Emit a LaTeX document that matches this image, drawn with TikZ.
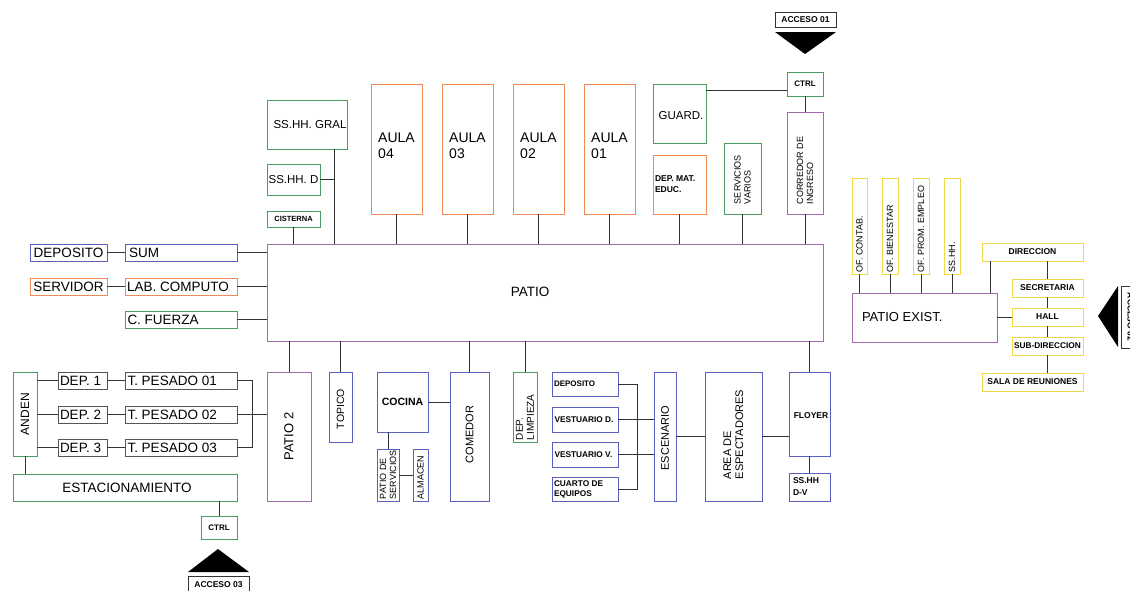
\documentclass[tikz,border=0pt]{standalone}
\usepackage{fontspec}
\setmainfont{Liberation Sans}
\definecolor{cor}{HTML}{EE8A55}
\definecolor{cgr}{HTML}{4E9A64}
\definecolor{cbl}{HTML}{5A5FC0}
\definecolor{cpu}{HTML}{A06AAA}
\definecolor{cye}{HTML}{F2D64B}
\definecolor{cgy}{HTML}{555555}
\definecolor{cdk}{HTML}{333333}
\definecolor{cln}{HTML}{333333}
\newcommand\fs[2]{\fontsize{#1}{#2}\selectfont}
\newcommand\bx[6]{\node[bx=#6, minimum width={(#4)-(#2)}, minimum height={(#5)-(#3)}] (#1) at ({((#2)+(#4))/2},{((#3)+(#5))/2}) {};}
\begin{document}
\begin{tikzpicture}[x=1pt,y=-1pt,
  bx/.style={draw=#1, line width=1pt, inner sep=0pt, outer sep=0pt, fill=white},
  T/.style={inner sep=0pt, outer sep=0pt, text=black},
  vt/.style={T, rotate=90, align=left},
  ln/.style={draw=cln, line width=0.9pt}]
\clip (0,0) rectangle (1130,590);
\fill[white] (0,0) rectangle (1130,590);

% ---------- top left
\bx{gral}{267}{100}{347}{149}{cgr}
\bx{ssd}{267}{164}{320}{195}{cgr}
\bx{cist}{267}{211}{320}{227}{cgr}
\bx{dep}{30}{244}{107}{261}{cbl}
\bx{sum}{125}{244}{237}{261}{cbl}
\bx{serv}{30}{278}{107}{295}{cor}
\bx{lab}{125}{278}{237}{295}{cor}
\bx{cf}{125}{311}{237}{328}{cgr}
\bx{patio}{267}{244}{823}{341}{cpu}
% aulas
\bx{aulaa}{371}{84}{422}{214}{cor}
\bx{aulab}{442}{84}{493}{214}{cor}
\bx{aulac}{513}{84}{564}{214}{cor}
\bx{aulad}{584}{84}{635}{214}{cor}
\bx{guard}{653}{84}{706}{143}{cgr}
\bx{dme}{653}{155}{706}{214}{cor}
\bx{svar}{724}{143}{761}{214}{cgr}
\bx{ctrla}{787}{72}{823}{96}{cgr}
\bx{corr}{787}{112}{823}{214}{cpu}
\bx{acca}{775}{12}{836}{27}{cdk}

% ---------- right cluster
\bx{ofc}{852}{178}{867}{274}{cye}
\bx{ofb}{882}{178}{898}{274}{cye}
\bx{ofp}{913}{178}{929}{274}{cye}
\bx{ofs}{944}{178}{960}{274}{cye}
\bx{pex}{852}{293}{997}{342}{cpu}
\bx{dir}{982}{243}{1083}{261}{cye}
\bx{sec}{1012}{279}{1083}{297}{cye}
\bx{hall}{1012}{308}{1083}{326}{cye}
\bx{sub}{1012}{337}{1083}{355}{cye}
\bx{sala}{982}{373}{1083}{391}{cye}
\bx{accb}{1121}{286}{1140}{348}{cdk}

% ---------- bottom left
\bx{anden}{13}{372}{37}{456}{cgr}
\bx{da}{58}{372}{107}{389}{cgy}
\bx{tpa}{125}{372}{237}{389}{cgy}
\bx{db}{58}{406}{107}{423}{cgy}
\bx{tpb}{125}{406}{237}{423}{cgy}
\bx{dc}{58}{439}{107}{456}{cgy}
\bx{tpc}{125}{439}{237}{456}{cgy}
\bx{est}{13}{474}{237}{501}{cgr}
\bx{ctrlc}{201}{516}{237}{539}{cgr}
\bx{accc}{188}{576}{249}{594}{cdk}

% ---------- bottom middle
\bx{patiob}{267}{372}{311}{501}{cpu}
\bx{top}{329}{372}{352}{442}{cbl}
\bx{coc}{377}{372}{428}{432}{cbl}
\bx{pser}{377}{449}{399}{501}{cbl}
\bx{alm}{413}{449}{428}{501}{cbl}
\bx{com}{450}{372}{489}{501}{cbl}
\bx{dlim}{513}{372}{537}{442}{cgr}
\bx{dps}{552}{372}{618}{396}{cbl}
\bx{vd}{552}{407}{618}{432}{cbl}
\bx{vv}{552}{442}{618}{467}{cbl}
\bx{cq}{552}{477}{618}{501}{cbl}
\bx{esc}{654}{372}{676}{501}{cbl}
\bx{area}{705}{372}{762}{501}{cbl}
\bx{floy}{789}{372}{830}{456}{cbl}
\bx{sshdv}{789}{473}{830}{501}{cbl}

% ---------- triangles
\fill[black] (775,32) -- (836,32) -- (805,54) -- cycle;
\fill[black] (1098,316) -- (1118,286) -- (1118,347) -- cycle;
\fill[black] (218,549) -- (249,572) -- (188,572) -- cycle;

% ---------- texts
\node[T, font=\fs{11.5}{13}] (gralt) at ([xshift=3pt]gral.center) {SS.HH. GRAL};
\node[T, font=\fs{11.5}{13}] (ssdt) at (ssd.center) {SS.HH. D};
\node[T, font=\fs{7.5}{9}\bfseries] (cistt) at (cist.center) {CISTERNA};
\node[T, font=\fs{13.5}{15}] (dept) at (dep.center) {DEPOSITO};
\node[T, font=\fs{13.5}{15}, anchor=west] (sumt) at ([xshift=4pt]sum.west) {SUM};
\node[T, font=\fs{13.5}{15}] (servt) at (serv.center) {SERVIDOR};
\node[T, font=\fs{13.5}{15}, anchor=west] (labt) at ([xshift=2pt]lab.west) {LAB. COMPUTO};
\node[T, font=\fs{13.5}{15}, anchor=west] (cft) at ([xshift=2.5pt]cf.west) {C. FUERZA};
\node[T, font=\fs{13.5}{15}] (patiot) at (530,292) {PATIO};
\node[T, font=\fs{14}{16}, align=left] (aulaat) at ([yshift=3pt]aulaa.center) {AULA\\04};
\node[T, font=\fs{14}{16}, align=left] (aulabt) at ([yshift=3pt]aulab.center) {AULA\\03};
\node[T, font=\fs{14}{16}, align=left] (aulact) at ([yshift=3pt]aulac.center) {AULA\\02};
\node[T, font=\fs{14}{16}, align=left] (auladt) at ([yshift=3pt]aulad.center) {AULA\\01};
\node[T, font=\fs{11.5}{13}] (guardt) at ([xshift=1.5pt,yshift=-2.5pt]guard.center) {GUARD.};
\node[T, font=\fs{8.5}{11}\bfseries, align=left, anchor=west] (dmet) at ([xshift=2pt]dme.west) {DEP. MAT.\\EDUC.};
\node[vt, font=\fs{9}{10}, anchor=west] (svart) at ([yshift=10pt]svar.south) {SERVICIOS\\VARIOS};
\node[T, font=\fs{8}{10}\bfseries] (ctrlat) at (ctrla.center) {CTRL};
\node[vt, font=\fs{9}{10}, anchor=west] (corrt) at ([yshift=10pt]corr.south) {CORREDOR DE\\INGRESO};
\node[T, font=\fs{8.5}{10}\bfseries] (accat) at (acca.center) {ACCESO 01};

\node[vt, font=\fs{9}{10}, anchor=west] (ofct) at ([yshift=2pt]ofc.south) {OF. CONTAB.};
\node[vt, font=\fs{9}{10}, anchor=west] (ofbt) at ([yshift=2pt]ofb.south) {OF. BIENESTAR};
\node[vt, font=\fs{9}{10}, anchor=west] (ofpt) at ([yshift=2pt]ofp.south) {OF. PROM. EMPLEO};
\node[vt, font=\fs{9}{10}, anchor=west] (ofst) at ([yshift=2pt]ofs.south) {SS.HH.};
\node[T, font=\fs{13}{15}, anchor=west] (pext) at ([xshift=10pt]pex.west) {PATIO EXIST.};
\node[T, font=\fs{8.5}{10}\bfseries] (dirt) at (dir.center) {DIRECCION};
\node[T, font=\fs{8.5}{10}\bfseries] (sect) at (sec.center) {SECRETARIA};
\node[T, font=\fs{8.5}{10}\bfseries] (hallt) at (hall.center) {HALL};
\node[T, font=\fs{8.3}{10}\bfseries] (subt) at (sub.center) {SUB-DIRECCION};
\node[T, font=\fs{8.5}{10}\bfseries] (salat) at (sala.center) {SALA DE REUNIONES};
\node[T, font=\fs{8.5}{10}\bfseries, rotate=-90] (accbt) at (accb.center) {ACCESO 02};

\node[vt, font=\fs{12}{14}] (andent) at (anden.center) {ANDEN};
\node[T, font=\fs{13.5}{15}, anchor=west] (dat) at ([xshift=2pt]da.west) {DEP. 1};
\node[T, font=\fs{13.5}{15}, anchor=west] (dbt) at ([xshift=2pt]db.west) {DEP. 2};
\node[T, font=\fs{13.5}{15}, anchor=west] (dct) at ([xshift=2pt]dc.west) {DEP. 3};
\node[T, font=\fs{13.5}{15}, anchor=west] (tpat) at ([xshift=2.5pt]tpa.west) {T. PESADO 01};
\node[T, font=\fs{13.5}{15}, anchor=west] (tpbt) at ([xshift=2.5pt]tpb.west) {T. PESADO 02};
\node[T, font=\fs{13.5}{15}, anchor=west] (tpct) at ([xshift=2.5pt]tpc.west) {T. PESADO 03};
\node[T, font=\fs{13.5}{15}] (estt) at ([xshift=2pt]est.center) {ESTACIONAMIENTO};
\node[T, font=\fs{8}{10}\bfseries] (ctrlct) at (ctrlc.center) {CTRL};
\node[T, font=\fs{8.5}{10}\bfseries] (accct) at (218.5,585) {ACCESO 03};

\node[vt, font=\fs{13}{15}] (patiobt) at (patiob.center) {PATIO 2};
\node[vt, font=\fs{10.5}{12}] (topt) at ([yshift=-2pt]top.center) {TOPICO};
\node[T, font=\fs{10.5}{13}\bfseries] (coct) at (coc.center) {COCINA};
\node[vt, font=\fs{9}{10}, anchor=west] (psert) at ([yshift=2pt]pser.south) {PATIO DE\\SERVICIOS};
\node[vt, font=\fs{9}{10}, anchor=west] (almt) at ([yshift=2pt]alm.south) {ALMACEN};
\node[vt, font=\fs{11}{13}] (comt) at ([yshift=2pt]com.center) {COMEDOR};
\node[vt, font=\fs{10}{11}, anchor=west] (dlimt) at ([yshift=2pt]dlim.south) {DEP.\\LIMPIEZA};
\node[T, font=\fs{8}{10}\bfseries, anchor=west] (dpst) at ([xshift=2pt]dps.west) {DEPOSITO};
\node[T, font=\fs{8.3}{10}\bfseries, anchor=west] (vdt) at ([xshift=2.5pt]vd.west) {VESTUARIO D.};
\node[T, font=\fs{8.3}{10}\bfseries, anchor=west] (vvt) at ([xshift=2.5pt]vv.west) {VESTUARIO V.};
\node[T, font=\fs{8.3}{10}\bfseries, anchor=west, align=left] (cqt) at ([xshift=2pt]cq.west) {CUARTO DE\\EQUIPOS};
\node[vt, font=\fs{11}{13}] (esct) at ([yshift=-1.5pt]esc.center) {ESCENARIO};
\node[vt, font=\fs{11}{12}] (areat) at ([yshift=2pt]area.center) {AREA DE\\ESPECTADORES};
\node[T, font=\fs{8.5}{10}\bfseries] (floyt) at ([xshift=1.5pt,yshift=-2pt]floy.center) {FLOYER};
\node[T, font=\fs{8.5}{12}\bfseries, anchor=west, align=left] (sshdvt) at ([xshift=4pt]sshdv.west) {SS.HH\\D-V};

% ---------- connectors
\coordinate (ja) at (334,179.5);
\coordinate (jb) at (252,414.5);
\coordinate (jc) at (637,436.5);
\draw[ln] (cist.south) -- (cist.south |- patio.north);
\draw[ln] (ja |- gral.south) -- (ja |- patio.north);
\draw[ln] (ssd.east) -- (ja);
\draw[ln] (dep.east) -- (sum.west);
\draw[ln] (serv.east) -- (lab.west);
\draw[ln] (sum.east) -- (sum.east -| patio.west);
\draw[ln] (lab.east) -- (lab.east -| patio.west);
\draw[ln] (cf.east) -- (cf.east -| patio.west);
\foreach \a in {aulaa,aulab,aulac,aulad,dme,svar,corr}
  \draw[ln] (\a.south) -- (\a.south |- patio.north);
\draw[ln] ([yshift=-6pt]ctrla.west) -- ([yshift=-6pt]ctrla.west -| guard.east);
\draw[ln] (ctrla.south) -- (corr.north);

\foreach \a in {ofc,ofb,ofp,ofs}
  \draw[ln] (\a.south) -- (\a.south |- pex.north);
\draw[ln] ([xshift=8pt]dir.south west) -- ([xshift=8pt]dir.south west |- pex.north);
\draw[ln] (sec.north) -- (sec.north |- dir.south);
\draw[ln] (sec.south) -- (hall.north);
\draw[ln] (hall.south) -- (sub.north);
\draw[ln] (sub.south) -- (sub.south |- sala.north);
\draw[ln] (pex.east) -- (pex.east -| hall.west);

\draw[ln] (da.west -| anden.east) -- (da.west);
\draw[ln] (db.west -| anden.east) -- (db.west);
\draw[ln] (dc.west -| anden.east) -- (dc.west);
\draw[ln] (da.east) -- (tpa.west);
\draw[ln] (db.east) -- (tpb.west);
\draw[ln] (dc.east) -- (tpc.west);
\draw[ln] (tpa.east) -- (tpa.east -| jb) -- (tpc.east -| jb) -- (tpc.east);
\draw[ln] (tpb.east) -- (tpb.east -| patiob.west);
\draw[ln] (anden.south) -- (anden.south |- est.north);
\draw[ln] (ctrlc.north) -- (ctrlc.north |- est.south);

\foreach \a in {patiob,top,com,dlim,floy}
  \draw[ln] (\a.north) -- (\a.north |- patio.south);
\draw[ln] (coc.east) -- (coc.east -| com.west);
\draw[ln] (coc.south -| pser.north) -- (pser.north);
\draw[ln] (pser.east) -- (pser.east -| alm.west);
\draw[ln] (dps.east) -- (dps.east -| jc) -- (cq.east -| jc) -- (cq.east);
\draw[ln] (vd.east) -- (vd.east -| esc.west);
\draw[ln] (vv.east) -- (vv.east -| esc.west);
\draw[ln] (esc.east) -- (area.west);
\draw[ln] (area.east) -- (area.east -| floy.west);
\draw[ln] (floy.south) -- (sshdv.north);
\end{tikzpicture}
\end{document}
